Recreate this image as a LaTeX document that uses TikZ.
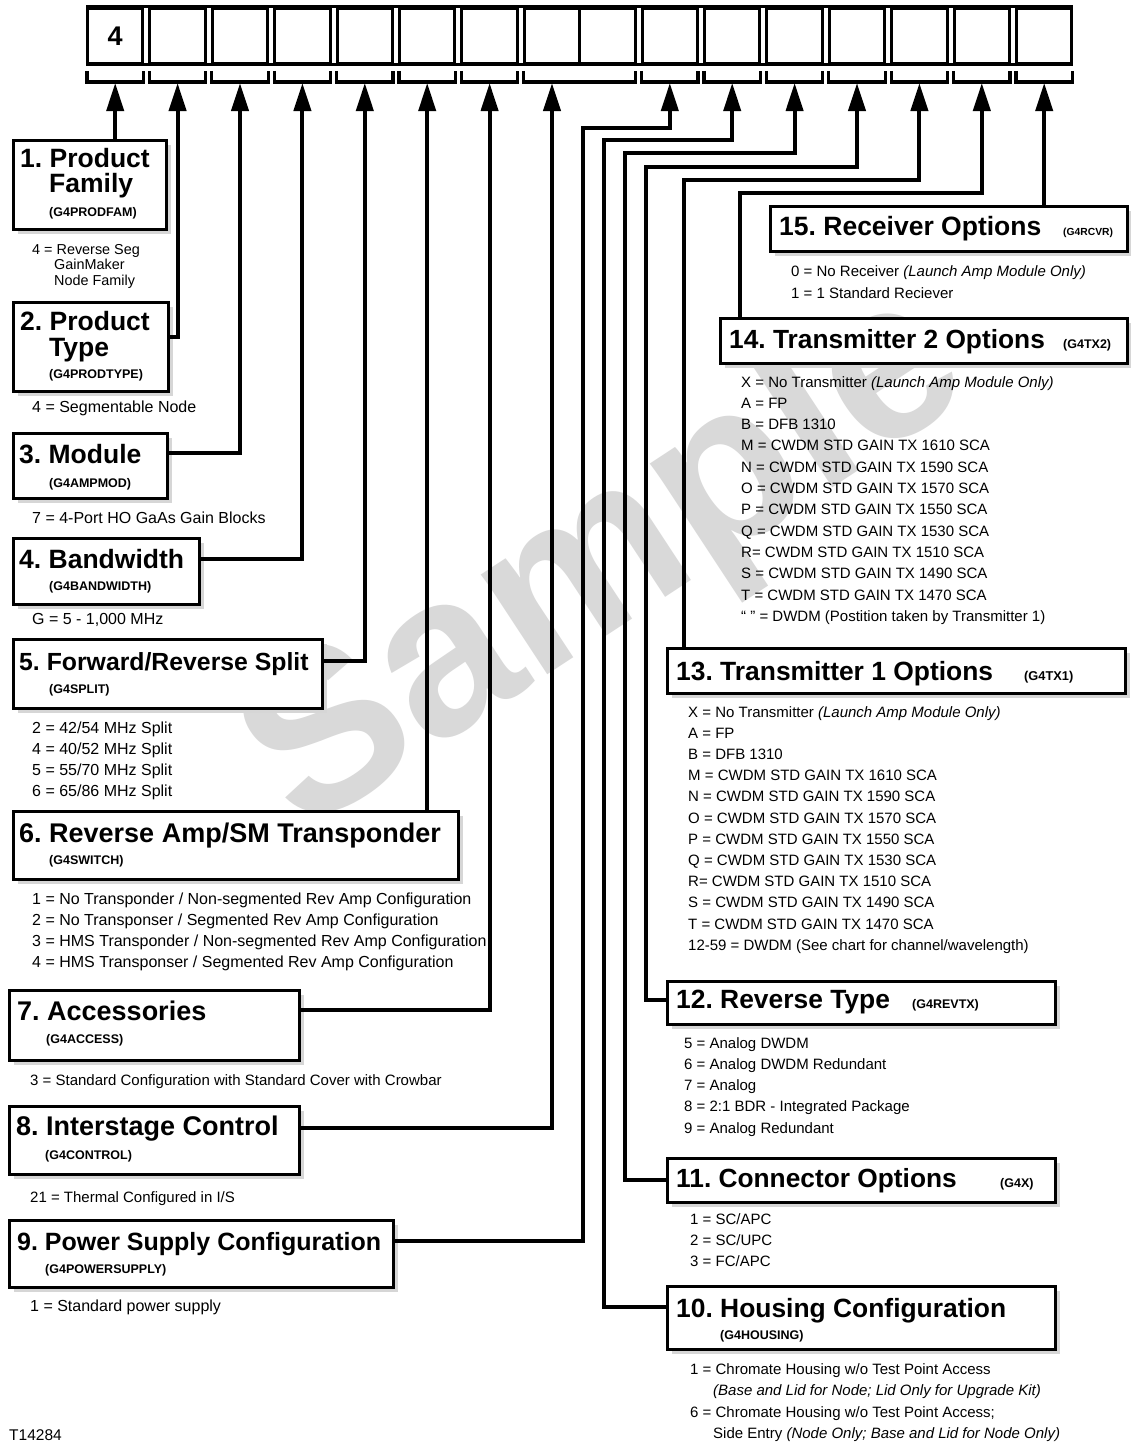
\documentclass[tikz,border=0pt]{standalone}
\usepackage{fontspec}
\setmainfont{Liberation Sans}
\usetikzlibrary{arrows.meta,shadows}
\begin{document}
\frenchspacing
\begin{tikzpicture}[x=1pt,y=-1pt,
  bx/.style={draw, line width=2.8pt, fill=white, inner sep=0pt, anchor=north west,
    drop shadow={shadow xshift=5pt, shadow yshift=-5pt, fill=black!16, opacity=1, draw=none}},
  cell/.style={draw, line width=3pt, inner sep=0pt, minimum width=55.4pt, minimum height=55pt, anchor=north west},
  brk/.style={line width=3.2pt, line join=miter},
  conn/.style={line width=4pt, line join=miter, -{Triangle[length=28pt,width=17pt]}},
  ttl/.style={font=\bfseries\fontsize{26.5}{29}\selectfont, anchor=base west, inner sep=0pt},
  code/.style={font=\bfseries\fontsize{12.5}{14}\selectfont, anchor=base west, inner sep=0pt},
  opt/.style={font=\fontsize{15}{17}\selectfont, anchor=base west, inner sep=0pt},
  optl/.style={font=\fontsize{16}{18}\selectfont, anchor=base west, inner sep=0pt},
]
\fill[white] (0,0) rectangle (1130,1445);
\useasboundingbox (0,0) rectangle (1130,1445);

% watermark
\node[font=\bfseries\fontsize{227}{227}\selectfont, text=black!15, rotate=33.3, anchor=base, inner sep=0pt] (wm) at (640,614) {Sample};

% top row of cells
\foreach \n/\x in {1/86, 2/148.4, 3/210.8, 4/273.2, 5/335.6, 6/398, 7/460.4, 8a/522.8, 8b/578.2, 9/640.6, 10/703, 11/765.4, 12/827.8, 13/890.2, 14/952.6, 15/1015}
  \node[cell] (c\n) at (\x,7) {};
\draw[line width=3pt] (c1.north west) -- (c15.north east) (c1.south west) -- (c15.south east);
\node[font=\bfseries\fontsize{27}{29}\selectfont, inner sep=0pt] (d1) at (c1.center) {4};

% brackets
\foreach \n in {1,2,3,4,5,6,7,9,10,11,12,13,14,15}
  \draw[brk] ([xshift=1pt,yshift=-6pt]c\n.south west) -- ([xshift=1pt,yshift=-17pt]c\n.south west) -- ([xshift=-1pt,yshift=-17pt]c\n.south east) -- ([xshift=-1pt,yshift=-6pt]c\n.south east);
\draw[brk] ([xshift=1pt,yshift=-6pt]c8a.south west) -- ([xshift=1pt,yshift=-17pt]c8a.south west) -- ([xshift=-1pt,yshift=-17pt]c8b.south east) -- ([xshift=-1pt,yshift=-6pt]c8b.south east);

% arrow tips
\coordinate (tip) at (0,83);
\foreach \n in {1,2,3,4,5,6,7,9,10,11,12,13,14,15}
  \coordinate (a\n) at (c\n.south |- tip);
\coordinate (a8) at (c8a.south |- tip);

% bend points
\coordinate (k9) at (583,128);
\coordinate (k10) at (604,140);
\coordinate (k11) at (625,153);
\coordinate (k12) at (646,167);
\coordinate (k13) at (684,180);
\coordinate (k14) at (740,193);

% boxes
\node[bx, minimum width=153pt, minimum height=89pt] (b1) at (12,139) {};
\node[bx, minimum width=155pt, minimum height=89pt] (b2) at (12,301) {};
\node[bx, minimum width=154pt, minimum height=65pt] (b3) at (12,432) {};
\node[bx, minimum width=186pt, minimum height=66pt] (b4) at (12,537) {};
\node[bx, minimum width=309pt, minimum height=69pt] (b5) at (12,638) {};
\node[bx, minimum width=445pt, minimum height=68pt] (b6) at (12,810) {};
\node[bx, minimum width=290pt, minimum height=70pt] (b7) at (8,989) {};
\node[bx, minimum width=290pt, minimum height=68pt] (b8) at (8,1105) {};
\node[bx, minimum width=384pt, minimum height=67pt] (b9) at (8,1219) {};
\node[bx, minimum width=357pt, minimum height=45pt] (b15) at (769,205) {};
\node[bx, minimum width=407pt, minimum height=45pt] (b14) at (719,317) {};
\node[bx, minimum width=458pt, minimum height=45pt] (b13) at (666,647) {};
\node[bx, minimum width=388pt, minimum height=43pt] (b12) at (666,980) {};
\node[bx, minimum width=388pt, minimum height=44pt] (b11) at (666,1157) {};
\node[bx, minimum width=388pt, minimum height=63pt] (b10) at (666,1285) {};

% connectors
\draw[conn] (a1 |- b1.north) -- (a1);
\draw[conn] ([yshift=-36pt]b2.north east) -| (a2);
\draw[conn] ([yshift=-21pt]b3.north east) -| (a3);
\draw[conn] ([yshift=-22pt]b4.north east) -| (a4);
\draw[conn] ([yshift=-23pt]b5.north east) -| (a5);
\draw[conn] (a6 |- b6.north) -- (a6);
\draw[conn] ([yshift=-21pt]b7.north east) -| (a7);
\draw[conn] ([yshift=-23pt]b8.north east) -| (a8);
\draw[conn] ([yshift=-22pt]b9.north east) -| (k9) -| (a9);
\draw[conn] ([yshift=-22pt]b10.north west) -| (k10) -| (a10);
\draw[conn] ([yshift=-23pt]b11.north west) -| (k11) -| (a11);
\draw[conn] ([yshift=-20pt]b12.north west) -| (k12) -| (a12);
\draw[conn] (k13 |- b13.north) -- (k13) -| (a13);
\draw[conn] (k14 |- b14.north) -- (k14) -| (a14);
\draw[conn] (a15 |- b15.north) -- (a15);

% left texts
\node[ttl] (t1) at (20,167) {1. Product};
\node[ttl] (t1b) at (49,192) {Family};
\node[code] (g1) at (49,216) {(G4PRODFAM)};
\node[opt, font=\fontsize{14.4}{16}\selectfont] (o1a) at (32,254) {4 = Reverse Seg};
\node[opt, font=\fontsize{14.4}{16}\selectfont] (o1b) at (54,269) {GainMaker};
\node[opt, font=\fontsize{14.4}{16}\selectfont] (o1c) at (54,285) {Node Family};

\node[ttl] (t2) at (20,330) {2. Product};
\node[ttl] (t2b) at (49,356) {Type};
\node[code] (g2) at (49,378) {(G4PRODTYPE)};
\node[optl] (o2) at (32,412) {4 = Segmentable Node};

\node[ttl] (t3) at (19,463) {3. Module};
\node[code] (g3) at (49,487) {(G4AMPMOD)};
\node[optl] (o3) at (32,523) {7 = 4-Port HO GaAs Gain Blocks};

\node[ttl] (t4) at (19,568) {4. Bandwidth};
\node[code] (g4) at (49,590) {(G4BANDWIDTH)};
\node[optl] (o4) at (32,624) {G = 5 - 1,000 MHz};

\node[ttl, font=\bfseries\fontsize{24.8}{27}\selectfont] (t5) at (19,670) {5. Forward/Reverse Split};
\node[code] (g5) at (49,693) {(G4SPLIT)};
\foreach \t [count=\i from 0] in {{2 = 42/54 MHz Split}, {4 = 40/52 MHz Split}, {5 = 55/70 MHz Split}, {6 = 65/86 MHz Split}}
  \node[optl] (o5-\i) at (32, 733+21*\i) {\t};

\node[ttl, font=\bfseries\fontsize{27}{29}\selectfont] (t6) at (19,842) {6. Reverse Amp/SM Transponder};
\node[code] (g6) at (49,864) {(G4SWITCH)};
\foreach \t [count=\i from 0] in {{1 = No Transponder / Non-segmented Rev Amp Configuration}, {2 = No Transponser / Segmented Rev Amp Configuration}, {3 = HMS Transponder / Non-segmented Rev Amp Configuration}, {4 = HMS Transponser / Segmented Rev Amp Configuration}}
  \node[optl] (o6-\i) at (32, 904+21.3*\i) {\t};

\node[ttl, font=\bfseries\fontsize{27}{29}\selectfont] (t7) at (17,1020) {7. Accessories};
\node[code] (g7) at (46,1043) {(G4ACCESS)};
\node[opt] (o7) at (30,1085) {3 = Standard Configuration with Standard Cover with Crowbar};

\node[ttl, font=\bfseries\fontsize{27}{29}\selectfont] (t8) at (16,1135) {8. Interstage Control};
\node[code] (g8) at (45,1159) {(G4CONTROL)};
\node[opt] (o8) at (30,1202) {21 = Thermal Configured in I/S};

\node[ttl, font=\bfseries\fontsize{25}{27}\selectfont] (t9) at (17,1250) {9. Power Supply Configuration};
\node[code] (g9) at (45,1273) {(G4POWERSUPPLY)};
\node[optl] (o9) at (30,1311) {1 = Standard power supply};

\node[opt, font=\fontsize{15.5}{17}\selectfont] (tid) at (9,1440) {T14284};

% right texts
\node[ttl] (t15) at (779,235) {15. Receiver Options};
\node[code, font=\bfseries\fontsize{10.3}{12}\selectfont] (g15) at (1063,235) {(G4RCVR)};
\node[opt] (o15-0) at (791,276) {0 = No Receiver \textit{(Launch Amp Module Only)}};
\node[opt] (o15-1) at (791,298) {1 = 1 Standard Reciever};

\node[ttl, font=\bfseries\fontsize{26.3}{28}\selectfont] (t14) at (729,348) {14. Transmitter 2 Options};
\node[code] (g14) at (1063,348) {(G4TX2)};
\foreach \t [count=\i from 0] in {{X = No Transmitter \textit{(Launch Amp Module Only)}}, {A = FP}, {B = DFB 1310}, {M = CWDM STD GAIN TX 1610 SCA}, {N = CWDM STD GAIN TX 1590 SCA}, {O = CWDM STD GAIN TX 1570 SCA}, {P = CWDM STD GAIN TX 1550 SCA}, {Q = CWDM STD GAIN TX 1530 SCA}, {R= CWDM STD GAIN TX 1510 SCA}, {S = CWDM STD GAIN TX 1490 SCA}, {T = CWDM STD GAIN TX 1470 SCA}, {“ ” = DWDM (Postition taken by Transmitter 1)}}
  \node[opt] (o14-\i) at (741, 387+21.3*\i) {\t};

\node[ttl, font=\bfseries\fontsize{26.4}{28}\selectfont] (t13) at (676,680) {13. Transmitter 1 Options};
\node[code, font=\bfseries\fontsize{12.8}{14}\selectfont] (g13) at (1024,680) {(G4TX1)};
\foreach \t [count=\i from 0] in {{X = No Transmitter \textit{(Launch Amp Module Only)}}, {A = FP}, {B = DFB 1310}, {M = CWDM STD GAIN TX 1610 SCA}, {N = CWDM STD GAIN TX 1590 SCA}, {O = CWDM STD GAIN TX 1570 SCA}, {P = CWDM STD GAIN TX 1550 SCA}, {Q = CWDM STD GAIN TX 1530 SCA}, {R= CWDM STD GAIN TX 1510 SCA}, {S = CWDM STD GAIN TX 1490 SCA}, {T = CWDM STD GAIN TX 1470 SCA}, {12-59 = DWDM (See chart for channel/wavelength)}}
  \node[opt] (o13-\i) at (688, 717+21.2*\i) {\t};

\node[ttl, font=\bfseries\fontsize{26.4}{28}\selectfont] (t12) at (676,1008) {12. Reverse Type};
\node[code] (g12) at (912,1008) {(G4REVTX)};
\foreach \t [count=\i from 0] in {{5 = Analog DWDM}, {6 = Analog DWDM Redundant}, {7 = Analog}, {8 = 2:1 BDR - Integrated Package}, {9 = Analog Redundant}}
  \node[opt] (o12-\i) at (684, 1048+21.3*\i) {\t};

\node[ttl, font=\bfseries\fontsize{26.3}{28}\selectfont] (t11) at (676,1187) {11. Connector Options};
\node[code] (g11) at (1000,1187) {(G4X)};
\foreach \t [count=\i from 0] in {{1 = SC/APC}, {2 = SC/UPC}, {3 = FC/APC}}
  \node[opt] (o11-\i) at (690, 1224+21.3*\i) {\t};

\node[ttl, font=\bfseries\fontsize{26.4}{28}\selectfont] (t10) at (676,1317) {10. Housing Configuration};
\node[code] (g10) at (720,1339) {(G4HOUSING)};
\node[opt] (o10-0) at (690,1374) {1 = Chromate Housing w/o Test Point Access};
\node[opt] (o10-1) at (713,1395) {\textit{(Base and Lid for Node; Lid Only for Upgrade Kit)}};
\node[opt] (o10-2) at (690,1417) {6 = Chromate Housing w/o Test Point Access;};
\node[opt] (o10-3) at (713,1438) {Side Entry \textit{(Node Only; Base and Lid for Node Only)}};
\end{tikzpicture}
\end{document}
